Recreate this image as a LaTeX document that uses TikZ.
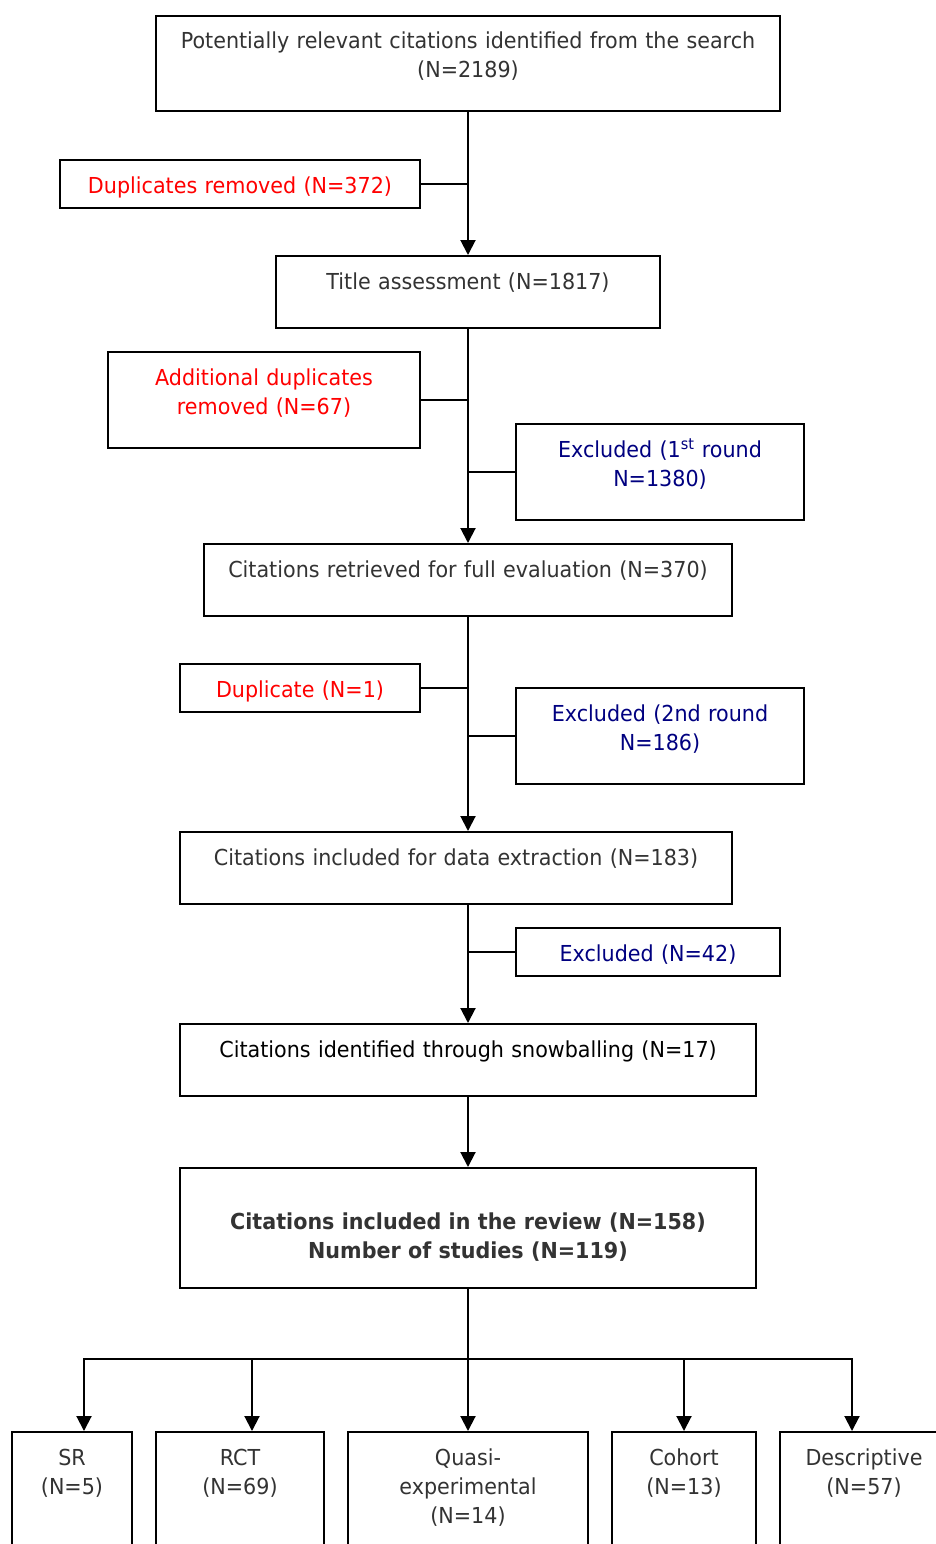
\documentclass[tikz,border=0pt]{standalone}
\usepackage{fontspec}
\setmainfont{DejaVu Sans}[FakeStretch=0.94]
\usetikzlibrary{arrows.meta}
\definecolor{boxtext}{HTML}{333333}
\definecolor{dupred}{HTML}{FF0000}
\definecolor{exclblue}{HTML}{000080}
\tikzset{
  >={Triangle[length=15pt,width=15pt]},
  flowbox/.style={draw, line width=2pt, rectangle, anchor=north, align=center,
    inner xsep=0pt, inner ysep=0pt, text height=33pt, text=boxtext,
    font=\fontsize{22}{29}\selectfont},
  dupbox/.style={flowbox, text=dupred},
  exclbox/.style={flowbox, text=exclblue},
  link/.style={line width=2pt},
}
\begin{document}
\begin{tikzpicture}[x=1pt, y=-1pt]
    \path[use as bounding box, fill=white] (0,0) rectangle (936,1544);
    \clip (0,0) rectangle (936,1544);

    \node (search) at (468, 15) [flowbox, text width=624pt, text depth=62pt] {Potentially relevant citations identified from the search\\(N=2189)};
    \node (dupone) at (240, 159) [dupbox, text width=360pt, text depth=15pt] {Duplicates removed (N=372)};
    \node (title) at (468, 255) [flowbox, text width=384pt, text depth=39pt] {Title assessment (N=1817)};
    \node (duptwo) at (264, 351) [dupbox, text width=312pt, text depth=63pt] {Additional duplicates\\removed (N=67)};
    \node (exclone) at (660, 423) [exclbox, text width=288pt, text depth=63pt] {Excluded (1\textsuperscript{st} round\\N=1380)};
    \node (retrieved) at (468, 543) [flowbox, text width=528pt, text depth=39pt] {Citations retrieved for full evaluation (N=370)};
    \node (dupthree) at (300, 663) [dupbox, text width=240pt, text depth=15pt] {Duplicate (N=1)};
    \node (excltwo) at (660, 687) [exclbox, text width=288pt, text depth=63pt] {Excluded (2nd round\\N=186)};
    \node (extract) at (456, 831) [flowbox, text width=552pt, text depth=39pt] {Citations included for data extraction (N=183)};
    \node (exclthree) at (648, 927) [exclbox, text width=264pt, text depth=15pt] {Excluded (N=42)};
    \node (snow) at (468, 1023) [flowbox, text width=576pt, text depth=39pt, text=black] {Citations identified through snowballing (N=17)};
    \node (review) at (468, 1167) [flowbox, text width=576pt, text height=61pt, text depth=59pt, font=\fontsize{22}{29}\selectfont\bfseries] {Citations included in the review (N=158)\\Number of studies (N=119)};

    \node (sr) at (72, 1431) [flowbox, text width=120pt, text depth=140pt] {SR\\(N=5)};
    \node (rct) at (240, 1431) [flowbox, text width=168pt, text depth=140pt] {RCT\\(N=69)};
    \node (quasi) at (468, 1431) [flowbox, text width=240pt, text depth=140pt] {Quasi-\\experimental\\(N=14)};
    \node (cohort) at (684, 1431) [flowbox, text width=144pt, text depth=140pt] {Cohort\\(N=13)};
    \node (desc) at (864, 1431) [flowbox, text width=168pt, text depth=140pt] {Descriptive\\(N=57)};

    \draw[link, ->] (search) -- (title);
    \draw[link, ->] (title) -- (retrieved);
    \draw[link, ->] (retrieved.south) -- (retrieved.south |- extract.north);
    \draw[link, ->] (snow.north |- extract.south) -- (snow.north);
    \draw[link, ->] (snow) -- (review);

    \draw[link] (dupone.east) -- (dupone.east -| search.south);
    \draw[link] (duptwo.east) -- (duptwo.east -| title.south);
    \draw[link] (exclone.west) -- (exclone.west -| title.south);
    \draw[link] (dupthree.east) -- (dupthree.east -| retrieved.south);
    \draw[link] (excltwo.west) -- (excltwo.west -| retrieved.south);
    \draw[link] (exclthree.west) -- (exclthree.west -| snow.north);

    \coordinate (split) at (468, 1359);
    \draw[link] (review) -- (split);
    \draw[link, ->] (split) -| ([xshift=12pt]sr.north);
    \draw[link, ->] (split) -| ([xshift=12pt]rct.north);
    \draw[link, ->] (split) -- (quasi);
    \draw[link, ->] (split) -| (cohort);
    \draw[link, ->] (split) -| ([xshift=-12pt]desc.north);
\end{tikzpicture}
\end{document}
